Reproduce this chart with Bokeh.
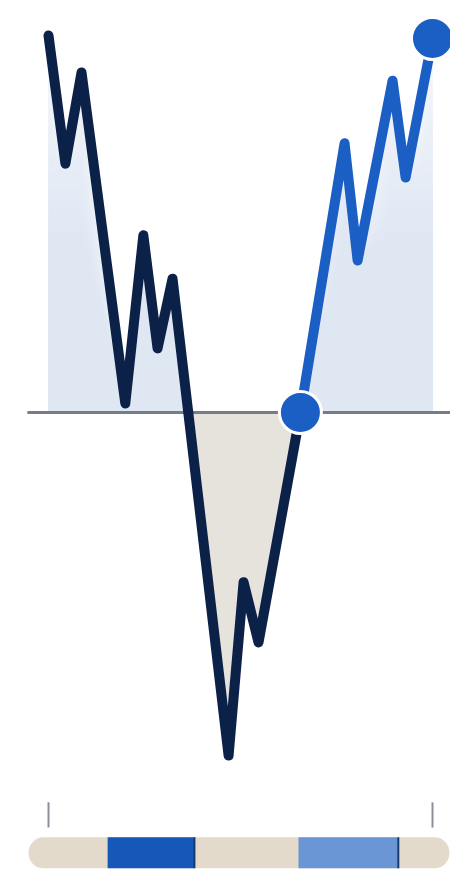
import numpy as np
from bokeh.plotting import figure
from bokeh.models import Range1d
from bokeh.embed import file_html
from bokeh.resources import INLINE

# ---- data ----
t_dark = [0, 4.4, 8.6, 20, 24.7, 28.4, 32.3, 46.9, 50.8, 54.7, 65.6]
v_dark = [100, 66, 90.2, 2.4, 47, 17, 35.5, -91, -45, -61, 0]
t_blue = [65.6, 77.1, 80.5, 89.6, 93, 100]
v_blue = [0, 71.4, 40.3, 88, 62.3, 99.2]
axis_ticks = [0, 100]
period_starts = [15.4, 65.1]
period_ends = [38.0, 91.1]
timeline_start = -5.2
timeline_end = 104.4

NAVY = "#0c2148"
BLUE = "#1b5ec4"
NEG_FILL = "#e6e2dc"
BEIGE = "#e4dacb"
PERIOD_COLORS = ["#1558b8", "#6b96d6"]

p = figure(width=450, height=870, output_backend="svg", toolbar_location=None,
           x_range=Range1d(-12.5, 104.69), y_range=Range1d(-121.49, 109.28),
           x_axis_location=None, y_axis_location=None, min_border=0)
p.grid.visible = False
p.outline_line_color = None
p.background_fill_color = "white"
p.border_fill_color = "white"

# full series with baseline crossings inserted
t_all = np.array(t_dark + t_blue[1:], dtype=float)
v_all = np.array(v_dark + v_blue[1:], dtype=float)
tt, vv = [t_all[0]], [v_all[0]]
for i in range(1, len(t_all)):
    a, b = v_all[i - 1], v_all[i]
    if a * b < 0:
        tc = t_all[i - 1] + (t_all[i] - t_all[i - 1]) * (a / (a - b))
        tt.append(tc); vv.append(0.0)
    tt.append(t_all[i]); vv.append(v_all[i])
tt = np.array(tt); vv = np.array(vv)

# positive area with vertical gradient (solid low, fading near top);
# drawn cumulatively from the top band down so no seams appear
pos = np.maximum(vv, 0)
c_lo = np.array([0xdf, 0xe7, 0xf3]); c_hi = np.array([0xf8, 0xfa, 0xfd])
edges = np.linspace(0, 104, 27)
for lo, hi in reversed(list(zip(edges[:-1], edges[1:]))):
    mid = 0.5 * (lo + hi)
    f = np.clip((mid - 45) / 60, 0, 1)
    c = (c_lo + (c_hi - c_lo) * f).astype(int)
    col = "#%02x%02x%02x" % tuple(c)
    p.varea(x=tt, y1=np.zeros_like(pos), y2=np.minimum(pos, hi), fill_color=col)

neg = (tt >= 30) & (tt <= 66)
p.varea(x=tt[neg], y1=np.zeros(neg.sum()), y2=np.minimum(vv[neg], 0), fill_color=NEG_FILL)

# baseline
p.segment(x0=[-5.5], y0=[0], x1=[106], y1=[0], line_color="#767d89", line_width=3)

# lines
p.line(t_dark, v_dark, line_color=NAVY, line_width=10, line_join="round", line_cap="round")
p.line(t_blue, v_blue, line_color=BLUE, line_width=10, line_join="round", line_cap="round")

# markers
p.scatter([t_blue[0], t_blue[-1]], [v_blue[0], v_blue[-1]], size=42,
          fill_color=BLUE, line_color="white", line_width=3)

# ticks
p.segment(x0=axis_ticks, y0=[-103.4] * 2, x1=axis_ticks, y1=[-110.1] * 2,
          line_color="#8a8f98", line_width=2)

# timeline bar
p.quad(left=[timeline_start], right=[timeline_end], top=[-112.7], bottom=[-120.9],
       fill_color=BEIGE, line_color=None, border_radius=15)
p.quad(left=period_starts, right=period_ends, top=[-112.7] * 2, bottom=[-120.9] * 2,
       fill_color=PERIOD_COLORS, line_color=None)
p.segment(x0=period_ends, y0=[-112.7] * 2, x1=period_ends, y1=[-120.9] * 2,
          line_color="#163a70", line_width=2)

open("out.html", "w").write(file_html(p, INLINE))
